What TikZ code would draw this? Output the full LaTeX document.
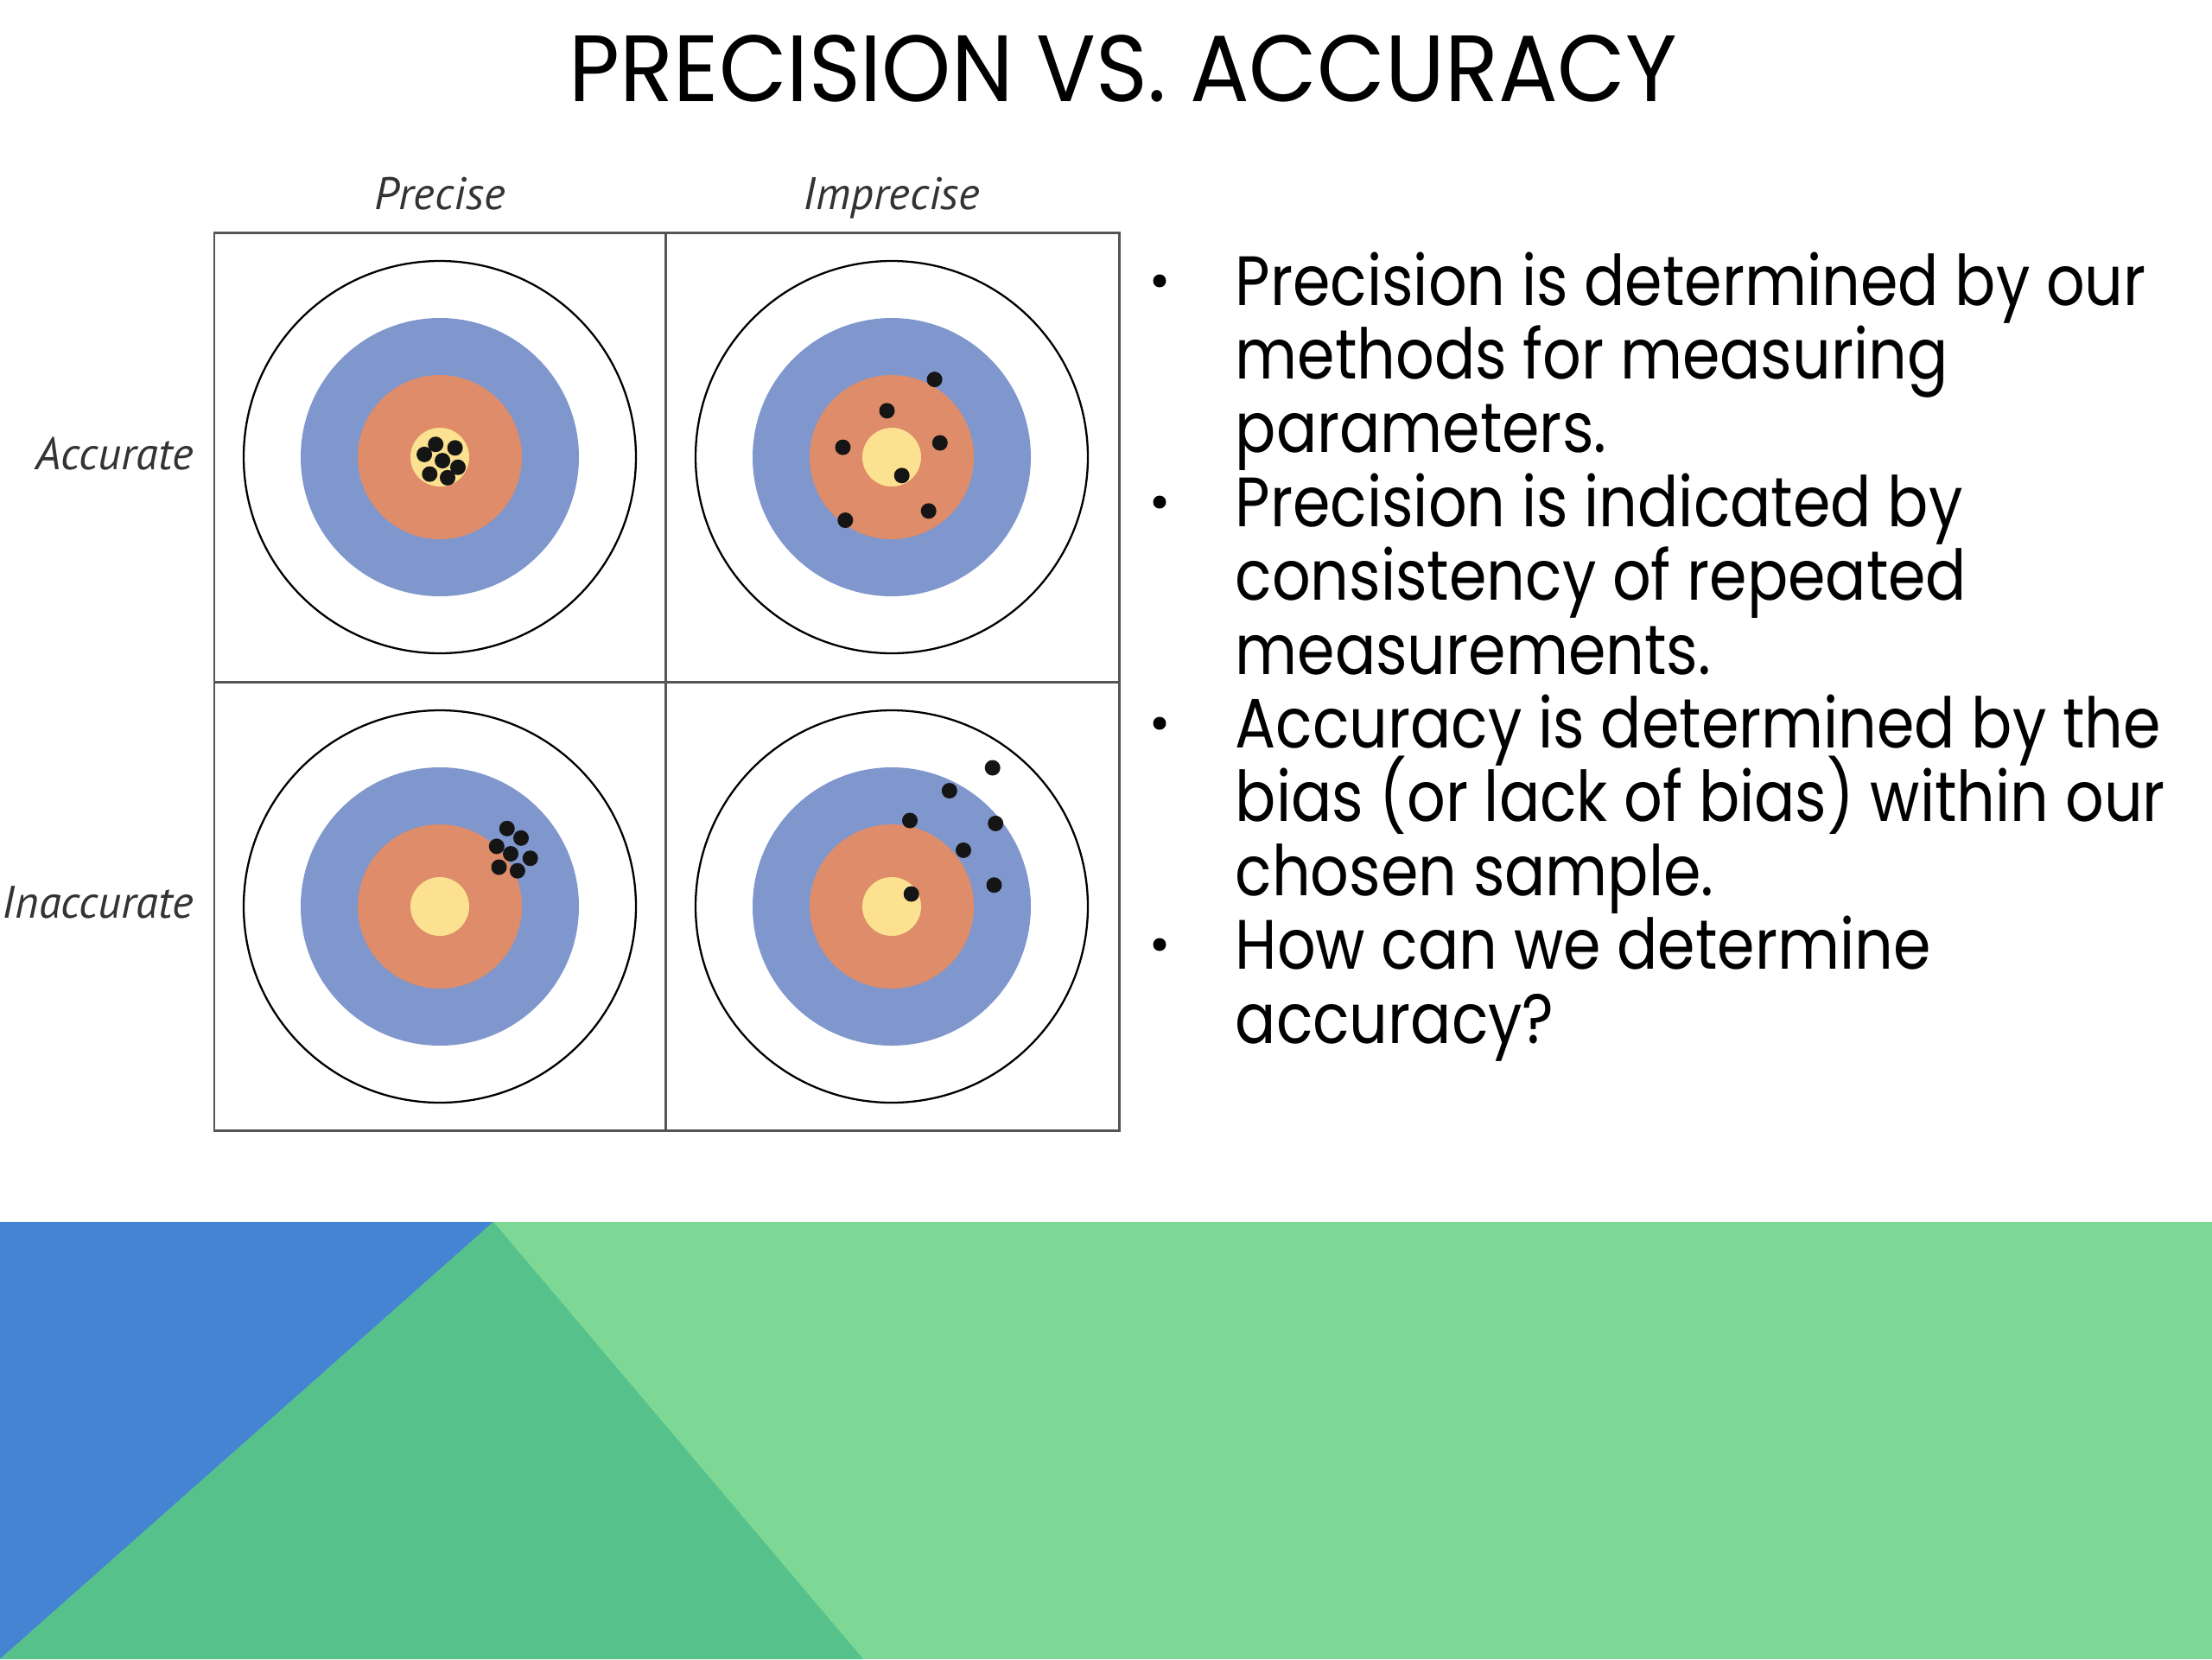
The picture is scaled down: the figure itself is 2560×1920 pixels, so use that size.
\documentclass[tikz,border=0pt]{standalone}
\usepackage{fontspec}
\setmainfont{Poppins}
\newfontfamily\bodyfont{Poppins}[FakeStretch=0.865]
\newfontfamily\titlefont{Poppins}[FakeStretch=0.935]
\newfontfamily\labelfont{PT Sans}
\definecolor{bgblue}{HTML}{4584D3}
\definecolor{bgdgreen}{HTML}{56C18B}
\definecolor{bglgreen}{HTML}{7DD895}
\definecolor{ringblue}{HTML}{7F97CD}
\definecolor{ringorange}{HTML}{DE8C69}
\definecolor{ringyellow}{HTML}{FCE190}
\definecolor{gridgray}{HTML}{555555}
\definecolor{dotc}{HTML}{151515}
\begin{document}
\begin{tikzpicture}[x=0.01cm,y=-0.01cm,
  gridline/.style={draw=gridgray,line width=0.85pt},
  outerring/.style={draw=black,line width=0.65pt,fill=white},
  hit/.style={fill=dotc},
  bodytext/.style={anchor=base west,font=\bodyfont\fontsize{23}{23}\selectfont,inner sep=0pt},
  labeltext/.style={font=\labelfont\itshape\fontsize{15}{15}\selectfont,inner sep=0pt,text=black!80}]
\useasboundingbox (0,0) rectangle (2560,1920);
\fill[white] (0,0) rectangle (2560,1920);
% bottom band
\fill[bglgreen] (0,1414) rectangle (2560,1920);
\fill[bgblue] (0,1414) -- (571,1414) -- (0,1920) -- cycle;
\fill[bgdgreen] (571,1414) -- (0,1920) -- (999,1920) -- cycle;
% title
\node[anchor=base,font=\titlefont\fontsize{31}{31}\selectfont,inner sep=0pt] (title) at (1300,117) {PRECISION VS. ACCURACY};
% targets
\foreach \cx/\cy/\pts in {
  509/529/{-4.8/-14.8,17.6/-10.7,-17.9/-3.1,3.1/4.1,21/11.7,-11.7/19.6,9/23.8},
  1032/529/{49.6/-89.9,-5.5/-53.7,-56.5/-11.4,55.8/-16.5,11.7/21.3,42.7/62.3,-53.7/73},
  509/1049/{77.8/-90.2,94/-79.2,65.8/-69.6,82/-61,104.7/-55.8,68.5/-45.5,89.9/-41.3},
  1032/1049/{116.7/-160.5,66.8/-134,21/-99.5,120.2/-96.1,83/-65.1,118.5/-24.8,22.7/-14.5}} {
  \begin{scope}[shift={(\cx,\cy)}]
    \draw[outerring] (0,0) circle[radius=227];
    \fill[ringblue] (0,0) circle[radius=161];
    \fill[ringorange] (0,0) circle[radius=95];
    \fill[ringyellow] (0,0) circle[radius=34];
    \foreach \dx/\dy in \pts { \fill[hit] (\dx,\dy) circle[radius=9]; }
  \end{scope}
}
% grid
\draw[gridline] (248,269) rectangle (1295,1308);
\draw[gridline] (770,269) -- (770,1308);
\draw[gridline] (248,789) -- (1295,789);
% labels
\node[labeltext,anchor=base] (lprecise) at (509,242) {Precise};
\node[labeltext,anchor=base] (limprecise) at (1032,242) {Imprecise};
\node[labeltext,anchor=base east] (laccurate) at (225,543) {Accurate};
\node[labeltext,anchor=base east] (linaccurate) at (225,1062) {Inaccurate};
% bullets
\foreach \b in {325,581,837,1093} { \fill (1342,\b) circle[radius=7.5]; }
% body text
\node[bodytext] (t1) at (1429,353) {Precision is determined by our};
\node[bodytext] (t2) at (1429,438.4) {methods for measuring};
\node[bodytext] (t3) at (1429,523.8) {parameters.};
\node[bodytext] (t4) at (1429,609.2) {Precision is indicated by};
\node[bodytext] (t5) at (1429,694.6) {consistency of repeated};
\node[bodytext] (t6) at (1429,780) {measurements.};
\node[bodytext] (t7) at (1429,865.4) {Accuracy is determined by the};
\node[bodytext] (t8) at (1429,950.8) {bias (or lack of bias) within our};
\node[bodytext] (t9) at (1429,1036.2) {chosen sample.};
\node[bodytext] (t10) at (1429,1121.6) {How can we determine};
\node[bodytext] (t11) at (1429,1207) {accuracy?};
\end{tikzpicture}
\end{document}
